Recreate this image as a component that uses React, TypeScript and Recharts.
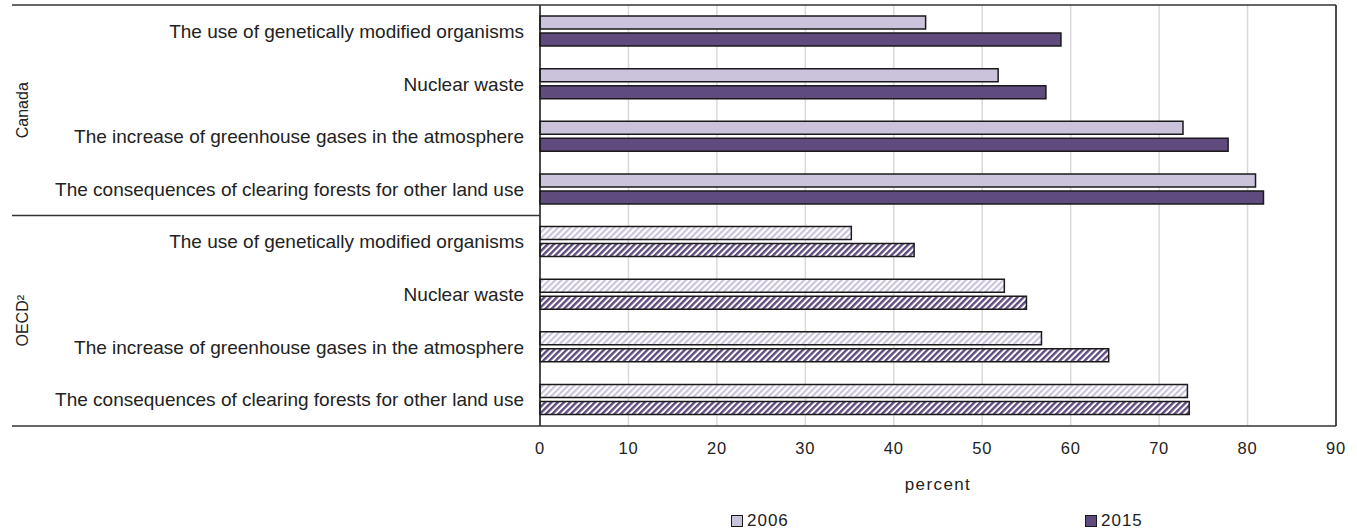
import React from "react";
import {
  BarChart,
  Bar,
  XAxis,
  YAxis,
  CartesianGrid,
  ReferenceLine,
  Legend,
  Label,
  Cell,
} from "recharts";

const groups = ["Canada", "OECD²"];
const issues = [
  "The use of genetically modified organisms",
  "Nuclear waste",
  "The increase of greenhouse gases in the atmosphere",
  "The consequences of clearing forests for other land use",
];
const canada2006 = [43.6, 51.8, 72.7, 80.9];
const canada2015 = [58.9, 57.2, 77.8, 81.8];
const oecd2006 = [35.2, 52.5, 56.7, 73.2];
const oecd2015 = [42.3, 55.0, 64.3, 73.4];
const xTicks = [0, 10, 20, 30, 40, 50, 60, 70, 80, 90];

const W = 1357;
const H = 531;
const MARGIN = { top: 5, right: 21, bottom: 5, left: 0 };
const PLOT_RIGHT = W - MARGIN.right;
const LINE_LEFT = 12;
const FONT = '"Liberation Sans", Arial, sans-serif';
const TEXT = "#222";
const LIGHT = "#cbc3dc";
const DARK = "#5f4b7e";
const EDGE = "#1a1a1a";

const rows = [
  ...issues.map((label, i) => ({ key: `c${i}`, label, group: 0, v2006: canada2006[i], v2015: canada2015[i] })),
  ...issues.map((label, i) => ({ key: `o${i}`, label, group: 1, v2006: oecd2006[i], v2015: oecd2015[i] })),
];

const CategoryTick = (props: any) => {
  const { x, y, payload, index } = props;
  const row = rows[index];
  const half = payload && payload.offset ? payload.offset : 26.3;
  const lineStyle = { stroke: "#333", strokeWidth: 1.5 };
  return (
    <g>
      <text
        x={x}
        y={y}
        dy="0.35em"
        textAnchor="end"
        fill={TEXT}
        fontSize={19}
        fontFamily={FONT}
      >
        {row ? row.label : ""}
      </text>
      {index === 0 && (
        <line x1={LINE_LEFT} x2={PLOT_RIGHT} y1={y - half} y2={y - half} {...lineStyle} />
      )}
      {index === 3 && (
        <line x1={LINE_LEFT} x2={540} y1={y + half} y2={y + half} {...lineStyle} />
      )}
      {index === 7 && (
        <line x1={LINE_LEFT} x2={PLOT_RIGHT} y1={y + half} y2={y + half} {...lineStyle} />
      )}
      {(index === 0 || index === 4) && (
        <text
          x={22}
          y={y + 3 * half}
          transform={`rotate(-90, 22, ${y + 3 * half})`}
          dy="0.35em"
          textAnchor="middle"
          fill={TEXT}
          fontSize={16}
          fontFamily={FONT}
        >
          {groups[row.group]}
        </text>
      )}
    </g>
  );
};

const renderLegend = (props: any) => {
  const { payload } = props;
  const lefts = [731, 1085];
  return (
    <div style={{ position: "relative", width: W, height: 30 }}>
      {(payload || []).map((entry: any, i: number) => (
        <div
          key={entry.value}
          style={{
            position: "absolute",
            left: lefts[i],
            top: 15,
            display: "flex",
            alignItems: "center",
            fontFamily: FONT,
            fontSize: 17,
            letterSpacing: 1,
            color: TEXT,
          }}
        >
          <span
            style={{
              display: "inline-block",
              width: 10,
              height: 10,
              background: i === 0 ? LIGHT : DARK,
              border: `1.5px solid ${EDGE}`,
              marginRight: 4,
            }}
          />
          {entry.value}
        </div>
      ))}
    </div>
  );
};

export default function App() {
  return (
    <div style={{ position: "absolute", left: 0, top: 0, width: W, height: H, background: "#fff" }}>
      <svg width={0} height={0} style={{ position: "absolute" }}>
        <defs>
          <pattern id="hatchLight" patternUnits="userSpaceOnUse" width={4.4} height={4.4} patternTransform="rotate(45)">
            <rect width={4.4} height={4.4} fill="#fff" />
            <rect width={2.2} height={4.4} fill={LIGHT} />
          </pattern>
          <pattern id="hatchDark" patternUnits="userSpaceOnUse" width={4.4} height={4.4} patternTransform="rotate(45)">
            <rect width={4.4} height={4.4} fill="#fff" />
            <rect width={2.4} height={4.4} fill={DARK} />
          </pattern>
        </defs>
      </svg>
      <BarChart
        width={W}
        height={H}
        data={rows}
        layout="vertical"
        margin={MARGIN}
        barSize={13}
        barGap={4}
      >
        <CartesianGrid horizontal={false} vertical stroke="#d9d9d9" strokeWidth={1.5} />
        <XAxis
          type="number"
          domain={[0, 90]}
          ticks={xTicks}
          axisLine={false}
          tickLine={false}
          tickMargin={10}
          height={70}
          tick={{ fill: TEXT, fontSize: 16.5, fontFamily: FONT, letterSpacing: 0.8 }}
        >
          <Label
            value="percent"
            position="insideBottom"
            offset={6}
            fill={TEXT}
            fontSize={17}
            fontFamily={FONT}
            letterSpacing={1.4}
          />
        </XAxis>
        <YAxis
          type="category"
          dataKey="key"
          width={540}
          axisLine={{ stroke: EDGE, strokeWidth: 1.5 }}
          tickLine={false}
          tickMargin={10}
          interval={0}
          tick={<CategoryTick />}
        />
        <ReferenceLine x={90} stroke={EDGE} strokeWidth={1.5} />
        <Bar dataKey="v2006" name="2006" fill={LIGHT} stroke={EDGE} strokeWidth={1.5} isAnimationActive={false}>
          {rows.map((r) => (
            <Cell key={r.key} fill={r.group === 1 ? "url(#hatchLight)" : LIGHT} />
          ))}
        </Bar>
        <Bar dataKey="v2015" name="2015" fill={DARK} stroke={EDGE} strokeWidth={1.5} isAnimationActive={false}>
          {rows.map((r) => (
            <Cell key={r.key} fill={r.group === 1 ? "url(#hatchDark)" : DARK} />
          ))}
        </Bar>
        <Legend
          verticalAlign="bottom"
          height={30}
          content={renderLegend}
          wrapperStyle={{ left: 0, width: W }}
        />
      </BarChart>
    </div>
  );
}
